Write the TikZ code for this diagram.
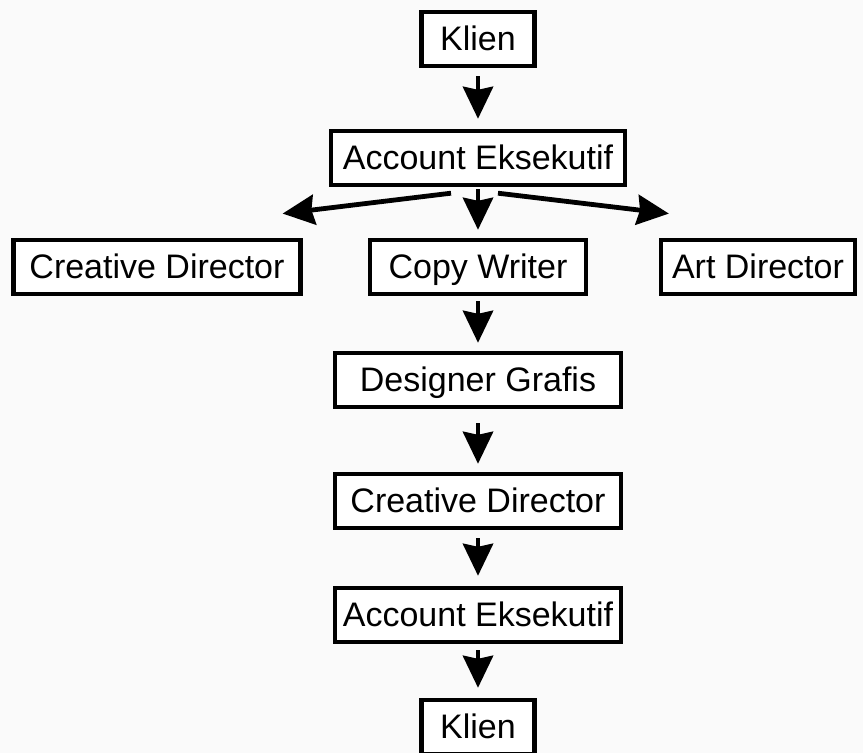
\documentclass[tikz,border=0pt]{standalone}
\usepackage{fontspec}
\setmainfont{Liberation Sans}
\usetikzlibrary{arrows.meta,positioning}

\begin{document}
\begin{tikzpicture}[x=1pt, y=1pt, node distance=57pt,
    every node/.style={draw, line width=2.2pt, fill=white, minimum height=27pt, inner sep=0pt,
      text height=15pt, text depth=3pt, font=\fontsize{17}{20}\selectfont},
    flow/.style={-{Stealth[width=15pt, length=16pt, inset=1.5pt]}, line width=2.4pt, shorten <=4pt, shorten >=5pt}]
        \fill[gray!4] (0,0) rectangle (431.5,-376.5);
        \useasboundingbox (0,0) rectangle (431.5,-376.5);

        \node[minimum width=56.5pt] (klien1) at (239,-19.5) {Klien};
        \node[below of=klien1, node distance=59.5pt, minimum width=147pt] (akun1) {Account Eksekutif};
        \node[below of=akun1, node distance=54.5pt, minimum width=108pt] (copy) {Copy Writer};
        \node[left of=copy, node distance=160.5pt, minimum width=143.5pt] (creative1) {Creative Director};
        \node[right of=copy, node distance=140pt, minimum width=97pt] (art) {Art Director};
        \node[below of=copy, node distance=56.5pt, minimum width=143pt] (desain) {Designer Grafis};
        \node[below of=desain, node distance=60.5pt, minimum width=143pt] (creative2) {Creative Director};
        \node[below of=creative2, node distance=57pt, minimum width=143pt] (akun2) {Account Eksekutif};
        \node[below of=akun2, node distance=56pt, minimum width=56.5pt] (klien2) {Klien};

        % ujung panah yang miring
        \coordinate (kiri) at ([xshift=-13.5pt, yshift=-3pt]akun1.south);
        \coordinate (kiriujung) at ([xshift=-15pt, yshift=11.5pt]creative1.north east);
        \coordinate (kanan) at ([xshift=10pt, yshift=-3pt]akun1.south);
        \coordinate (kananujung) at ([xshift=10pt, yshift=11.5pt]art.north west);

        \draw[flow] (klien1) -- (akun1);
        \draw[flow, shorten <=0pt] (kiri) -- (kiriujung);
        \draw[flow, shorten <=1pt, shorten >=4pt] (akun1) -- (copy);
        \draw[flow, shorten <=0pt] (kanan) -- (kananujung);
        \draw[flow, shorten <=2.5pt, shorten >=4pt] (copy) -- (desain);
        \draw[flow, shorten <=7pt, shorten >=4pt] (desain) -- (creative2);
        \draw[flow] (creative2) -- (akun2);
        \draw[flow, shorten <=3pt] (akun2) -- (klien2);
      \end{tikzpicture}
\end{document}
